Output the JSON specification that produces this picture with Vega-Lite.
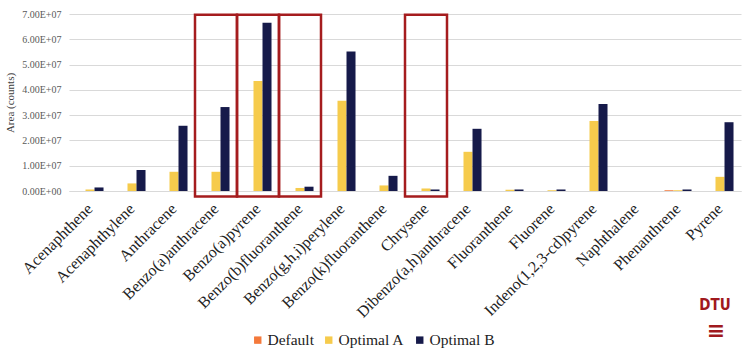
{
  "$schema": "https://vega.github.io/schema/vega-lite/v6.json",
  "autosize": {"type": "none"},
  "width": 672,
  "height": 177,
  "padding": {"left": 69, "top": 14, "right": 9, "bottom": 162},
  "background": "white",
  "config": {
    "view": {"stroke": null},
    "font": "Liberation Serif"
  },
  "resolve": {"scale": {"y": "independent"}, "axis": {"y": "independent"}},
  "layer": [
    {
      "data": {
        "values": [
          {"compound": "Acenaphthene", "series": "Default", "value": 0},
          {"compound": "Acenaphthene", "series": "Optimal A", "value": 600000},
          {"compound": "Acenaphthene", "series": "Optimal B", "value": 1400000},
          {"compound": "Acenaphthylene", "series": "Default", "value": 0},
          {"compound": "Acenaphthylene", "series": "Optimal A", "value": 3000000},
          {"compound": "Acenaphthylene", "series": "Optimal B", "value": 8300000},
          {"compound": "Anthracene", "series": "Default", "value": 0},
          {"compound": "Anthracene", "series": "Optimal A", "value": 7600000},
          {"compound": "Anthracene", "series": "Optimal B", "value": 25800000},
          {"compound": "Benzo(a)anthracene", "series": "Default", "value": 0},
          {"compound": "Benzo(a)anthracene", "series": "Optimal A", "value": 7600000},
          {"compound": "Benzo(a)anthracene", "series": "Optimal B", "value": 33200000},
          {"compound": "Benzo(a)pyrene", "series": "Default", "value": 0},
          {"compound": "Benzo(a)pyrene", "series": "Optimal A", "value": 43500000},
          {"compound": "Benzo(a)pyrene", "series": "Optimal B", "value": 66500000},
          {"compound": "Benzo(b)fluoranthene", "series": "Default", "value": 0},
          {"compound": "Benzo(b)fluoranthene", "series": "Optimal A", "value": 1200000},
          {"compound": "Benzo(b)fluoranthene", "series": "Optimal B", "value": 1700000},
          {"compound": "Benzo(g,h,i)perylene", "series": "Default", "value": 0},
          {"compound": "Benzo(g,h,i)perylene", "series": "Optimal A", "value": 35700000},
          {"compound": "Benzo(g,h,i)perylene", "series": "Optimal B", "value": 55200000},
          {"compound": "Benzo(k)fluoranthene", "series": "Default", "value": 0},
          {"compound": "Benzo(k)fluoranthene", "series": "Optimal A", "value": 2200000},
          {"compound": "Benzo(k)fluoranthene", "series": "Optimal B", "value": 6000000},
          {"compound": "Chrysene", "series": "Default", "value": 0},
          {"compound": "Chrysene", "series": "Optimal A", "value": 1000000},
          {"compound": "Chrysene", "series": "Optimal B", "value": 600000},
          {"compound": "Dibenzo(a,h)anthracene", "series": "Default", "value": 0},
          {"compound": "Dibenzo(a,h)anthracene", "series": "Optimal A", "value": 15500000},
          {"compound": "Dibenzo(a,h)anthracene", "series": "Optimal B", "value": 24600000},
          {"compound": "Fluoranthene", "series": "Default", "value": 0},
          {"compound": "Fluoranthene", "series": "Optimal A", "value": 500000},
          {"compound": "Fluoranthene", "series": "Optimal B", "value": 600000},
          {"compound": "Fluorene", "series": "Default", "value": 0},
          {"compound": "Fluorene", "series": "Optimal A", "value": 300000},
          {"compound": "Fluorene", "series": "Optimal B", "value": 600000},
          {"compound": "Indeno(1,2,3-cd)pyrene", "series": "Default", "value": 0},
          {"compound": "Indeno(1,2,3-cd)pyrene", "series": "Optimal A", "value": 27700000},
          {"compound": "Indeno(1,2,3-cd)pyrene", "series": "Optimal B", "value": 34400000},
          {"compound": "Naphthalene", "series": "Default", "value": 0},
          {"compound": "Naphthalene", "series": "Optimal A", "value": 0},
          {"compound": "Naphthalene", "series": "Optimal B", "value": 0},
          {"compound": "Phenanthrene", "series": "Default", "value": 300000},
          {"compound": "Phenanthrene", "series": "Optimal A", "value": 300000},
          {"compound": "Phenanthrene", "series": "Optimal B", "value": 600000},
          {"compound": "Pyrene", "series": "Default", "value": 0},
          {"compound": "Pyrene", "series": "Optimal A", "value": 5600000},
          {"compound": "Pyrene", "series": "Optimal B", "value": 27200000}
        ]
      },
      "mark": {"type": "bar"},
      "encoding": {
        "x": {
          "field": "compound",
          "type": "nominal",
          "sort": null,
          "scale": {"paddingInner": 0, "paddingOuter": 0},
          "axis": {
            "title": null,
            "labelAngle": -45,
            "labelAlign": "right",
            "labelBaseline": "middle",
            "labelFont": "Liberation Serif",
            "labelFontSize": 16,
            "labelColor": "#222222",
            "labelPadding": 15,
            "ticks": false,
            "domain": true,
            "domainColor": "#d9d9d9",
            "grid": false
          }
        },
        "xOffset": {
          "field": "series",
          "type": "nominal",
          "scale": {"paddingInner": 0, "paddingOuter": 0.83}
        },
        "y": {
          "field": "value",
          "type": "quantitative",
          "scale": {"domain": [0, 70000000], "nice": false},
          "axis": {
            "title": "Area (counts)",
            "titleFont": "Liberation Serif",
            "titleFontSize": 11,
            "titleFontWeight": "normal",
            "titleColor": "#404040",
            "titlePadding": 6,
            "values": [0, 10000000, 20000000, 30000000, 40000000, 50000000, 60000000, 70000000],
            "labelOverlap": false,
            "labelExpr": "datum.value == 0 ? '0.00E+00' : format(datum.value / 10000000, '.2f') + 'E+07'",
            "labelFont": "Liberation Serif",
            "labelFontSize": 10,
            "labelColor": "#595959",
            "labelPadding": 8,
            "ticks": false,
            "domain": false,
            "grid": true,
            "gridColor": "#d9d9d9",
            "gridWidth": 1
          }
        },
        "color": {
          "field": "series",
          "type": "nominal",
          "scale": {
            "domain": ["Default", "Optimal A", "Optimal B"],
            "range": ["#F4793B", "#F6CB4C", "#161A4A"]
          },
          "legend": {
            "title": null,
            "orient": "none",
            "direction": "horizontal",
            "legendX": 181,
            "legendY": 318,
            "symbolType": "square",
            "symbolSize": 55,
            "symbolStrokeWidth": 0,
            "labelFont": "Liberation Serif",
            "labelFontSize": 15.5,
            "labelColor": "#222222",
            "labelOffset": 2,
            "columnPadding": 7
          }
        }
      }
    },
    {
      "data": {
        "values": [
          {"compound": "Benzo(a)anthracene"},
          {"compound": "Benzo(a)pyrene"},
          {"compound": "Benzo(b)fluoranthene"},
          {"compound": "Chrysene"}
        ]
      },
      "mark": {"type": "rect", "filled": false, "stroke": "#A51C1E", "strokeWidth": 2.5, "clip": false},
      "encoding": {
        "x": {"field": "compound", "type": "nominal", "sort": null},
        "y": {"datum": 69700000, "type": "quantitative", "scale": {"domain": [0, 70000000], "nice": false}, "axis": null},
        "y2": {"datum": -2200000}
      }
    },
    {
      "data": {"values": [{"logo": "DTU"}]},
      "mark": {"type": "text", "font": "Liberation Sans Narrow, DejaVu Sans Condensed, sans-serif", "fontWeight": "bold", "fontSize": 15, "color": "#A0191E", "clip": false, "dx": -5},
      "encoding": {
        "x": {"datum": "Pyrene", "type": "nominal"},
        "y": {"datum": -45000000, "type": "quantitative", "scale": {"domain": [0, 70000000], "nice": false}, "axis": null},
        "text": {"field": "logo"}
      }
    },
    {
      "data": {"values": [{"logo": "≡"}]},
      "mark": {"type": "text", "font": "DejaVu Sans", "fontWeight": "bold", "fontSize": 22, "color": "#A0191E", "clip": false, "dx": -4},
      "encoding": {
        "x": {"datum": "Pyrene", "type": "nominal"},
        "y": {"datum": -55500000, "type": "quantitative", "scale": {"domain": [0, 70000000], "nice": false}, "axis": null},
        "text": {"field": "logo"}
      }
    }
  ]
}
